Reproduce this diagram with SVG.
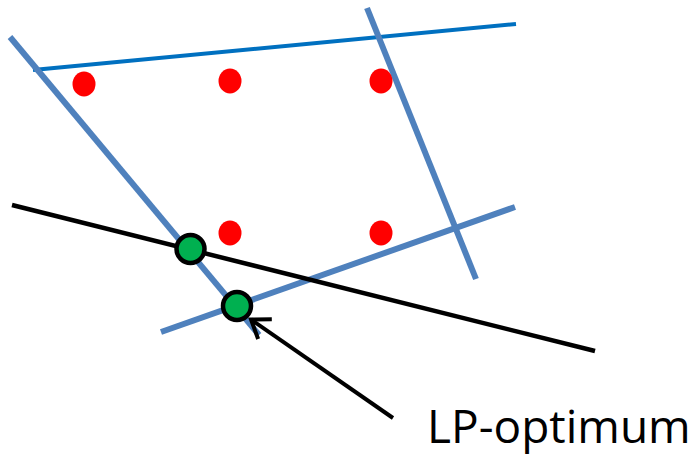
<svg xmlns="http://www.w3.org/2000/svg" width="696" height="455" viewBox="0 0 696 455">
<style>
.c{stroke:#4F81BD;stroke-width:6;fill:none}
.t{stroke:#0070C0;stroke-width:4;fill:none}
.obj{stroke:#000;stroke-width:4.5;fill:none}
.pt{fill:#FF0000}
.opt{fill:#00B050;stroke:#000;stroke-width:4.5}
.lbl{font-family:"Open Sans","Liberation Sans",sans-serif;font-size:46px;fill:#000}
</style>
<defs>
<marker id="ah" markerUnits="userSpaceOnUse" markerWidth="30" markerHeight="30" viewBox="-25 -15 30 30" refX="0" refY="0" orient="auto">
<path d="M -17 -12 L 0 0 L -17 12" fill="none" stroke="#000" stroke-width="4"/>
</marker>
</defs>
<g id="connectors">
<line class="t" x1="33" y1="70" x2="516" y2="24"/>
<line class="c" x1="10" y1="37" x2="259" y2="335"/>
<line class="c" x1="367" y1="8" x2="476" y2="279"/>
<line class="c" x1="161" y1="332" x2="515" y2="207"/>
<line class="obj" x1="12" y1="205" x2="595" y2="351"/>
<line x1="393" y1="418" x2="251" y2="319.5" stroke="#000" stroke-width="4" marker-end="url(#ah)"/>
</g>
<g id="p1"><ellipse class="pt" cx="84" cy="84" rx="11.5" ry="12.5"/></g>
<g id="p2"><ellipse class="pt" cx="230" cy="81" rx="11.5" ry="12.5"/></g>
<g id="p3"><ellipse class="pt" cx="381" cy="81" rx="11.5" ry="12.5"/></g>
<g id="p4"><ellipse class="pt" cx="230" cy="233" rx="11.5" ry="12.5"/></g>
<g id="p5"><ellipse class="pt" cx="381" cy="233" rx="11.5" ry="12.5"/></g>
<g id="o1"><circle class="opt" cx="190.5" cy="249" r="14"/></g>
<g id="o2"><circle class="opt" cx="237" cy="306" r="14"/></g>
<g id="label"><text class="lbl" x="427" y="443">LP-optimum</text></g>
</svg>
